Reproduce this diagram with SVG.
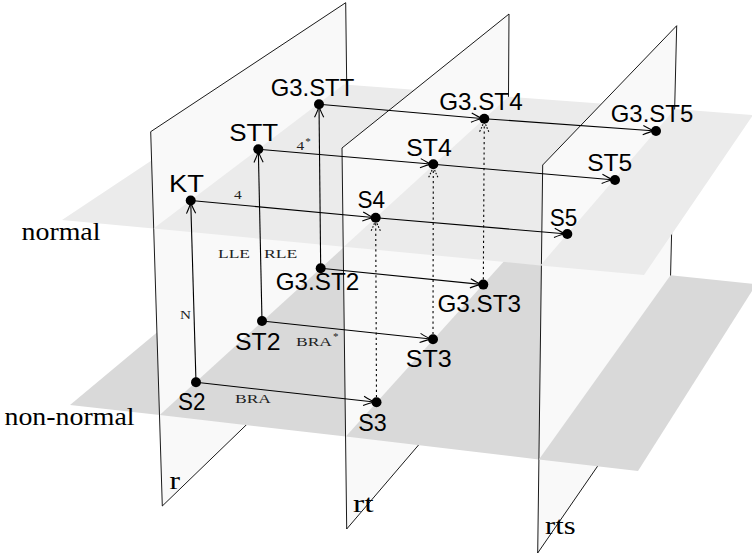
<svg xmlns="http://www.w3.org/2000/svg" width="752" height="558" viewBox="0 0 752 558">
<style>
.vp{fill:#f9f9f9;stroke:#000;stroke-width:0.9;stroke-linejoin:miter}
.hn{fill:#ebebeb;stroke:none}
.hnn{fill:#d9d9d9;stroke:none}
.e{fill:none;stroke:#000;stroke-width:1.1}
.d{fill:none;stroke:#000;stroke-width:1.1;stroke-dasharray:2.2 3}
.dot{fill:#000}
.nl{font-family:"Liberation Sans",Arial,sans-serif;font-size:24px;fill:#000;text-anchor:middle}
.sl{font-family:"Liberation Serif","Times New Roman",serif;font-size:12.5px;fill:#222}
.pl{font-family:"Liberation Serif","Times New Roman",serif;font-size:26px;fill:#000}
</style>
<defs>
<marker id="arr" markerUnits="userSpaceOnUse" markerWidth="16" markerHeight="12" refX="2" refY="0" orient="auto" overflow="visible">
<path d="M-11,-4.6 Q-4,-1.2 0,0 Q-4,1.2 -11,4.6" fill="none" stroke="#000" stroke-width="1.1"/>
</marker>
<marker id="arrd" markerUnits="userSpaceOnUse" markerWidth="16" markerHeight="12" refX="2" refY="0" orient="auto" overflow="visible">
<path d="M-11,-4.6 Q-4,-1.2 0,0 Q-4,1.2 -11,4.6" fill="none" stroke="#000" stroke-width="1.1" stroke-dasharray="1.6 1.6"/>
</marker>
</defs>

<g id="planes">
<polygon id="nn0" class="hnn" points="70,405 159.7,415.1 349,242.5 273.9,234.9"/>
<polygon id="n0" class="hn" points="62,220 153.5,228.6 343.7,84.5 275,78.5"/>
<polygon id="plane-r" class="vp" points="150.7,131.7 345.7,2.7 349.7,325 162.3,506"/>
<polygon id="nn1" class="hnn" points="159.7,415.1 345.8,436.5 507.4,257.6 349,242.5"/>
<polygon id="n1" class="hn" points="153.5,228.6 343.8,246.7 508.4,96.7 343.7,84.5"/>
<polygon id="plane-rt" class="vp" points="342,148 509,14 506.9,341.8 346.7,529"/>
<polygon id="nn2" class="hnn" points="345.8,436.5 538.9,459.5 670.5,275.3 507.4,257.6"/>
<polygon id="n2" class="hn" points="343.8,246.7 540.3,265.4 674.9,109 508.4,96.7"/>
<polygon id="plane-rts" class="vp" points="542.7,165 676.7,25.7 668.4,363.5 537.7,553"/>
<polygon id="nn3" class="hnn" points="538.9,459.5 638,471 756.4,284.1 670.5,275.3"/>
<polygon id="n3" class="hn" points="540.3,265.4 644,275 753,115 674.9,109"/>
</g>

<g id="plane-labels">
<text class="pl" x="21.5" y="240" textLength="79" lengthAdjust="spacingAndGlyphs">normal</text>
<text class="pl" x="4.5" y="425" textLength="130" lengthAdjust="spacingAndGlyphs">non-normal</text>
<text class="pl" x="169.5" y="489" textLength="10.5" lengthAdjust="spacingAndGlyphs">r</text>
<text class="pl" x="353" y="511.7" textLength="20.5" lengthAdjust="spacingAndGlyphs">rt</text>
<text class="pl" x="545" y="534.3" textLength="30.5" lengthAdjust="spacingAndGlyphs">rts</text>
</g>

<g id="connectors">
<path class="e" marker-end="url(#arr)" d="M190.7,200.5 L375.7,217.7"/>
<path class="e" marker-end="url(#arr)" d="M375.7,217.7 L567.3,234"/>
<path class="e" marker-end="url(#arr)" d="M258.3,149.3 L433.3,164.3"/>
<path class="e" marker-end="url(#arr)" d="M433.3,164.3 L615,180"/>
<path class="e" marker-end="url(#arr)" d="M319,104.3 L484.3,118.7"/>
<path class="e" marker-end="url(#arr)" d="M484.3,118.7 L656,131"/>
<path class="e" marker-end="url(#arr)" d="M196,382.3 L376.5,402.3"/>
<path class="e" marker-end="url(#arr)" d="M262,321 L433,339.3"/>
<path class="e" marker-end="url(#arr)" d="M320.7,268.3 L483.3,284.6"/>
<path class="e" marker-end="url(#arr)" d="M196,382.3 L190.7,200.5"/>
<path class="e" marker-end="url(#arr)" d="M262,321 L258.3,149.3"/>
<path class="e" marker-end="url(#arr)" d="M320.7,268.3 L319,104.3"/>
<path class="d" marker-end="url(#arrd)" d="M376.5,402.3 L375.7,217.7"/>
<path class="d" marker-end="url(#arrd)" d="M433,339.3 L433.3,164.3"/>
<path class="d" marker-end="url(#arrd)" d="M483.3,284.6 L484.3,118.7"/>
<text class="sl" x="234" y="199" font-size="13.5" textLength="7.7" lengthAdjust="spacingAndGlyphs">4</text>
<text class="sl" x="296.5" y="150"><tspan font-size="13.5" textLength="7.7" lengthAdjust="spacingAndGlyphs">4</tspan><tspan dx="1" dy="-5.5" font-size="11">*</tspan></text>
<text class="sl" x="218" y="257.7" textLength="32" lengthAdjust="spacingAndGlyphs">LLE</text>
<text class="sl" x="264" y="257.7" textLength="33.3" lengthAdjust="spacingAndGlyphs">RLE</text>
<text class="sl" x="180" y="319" textLength="11" lengthAdjust="spacingAndGlyphs">N</text>
<text class="sl" x="235" y="402.7" textLength="36" lengthAdjust="spacingAndGlyphs">BRA</text>
<text class="sl" x="296" y="345.7"><tspan textLength="36" lengthAdjust="spacingAndGlyphs">BRA</tspan><tspan dx="1" dy="-5.5" font-size="11">*</tspan></text>
</g>

<g id="node-KT"><circle class="dot" cx="190.7" cy="200.5" r="5"/><text class="nl" x="186.5" y="192" textLength="35" lengthAdjust="spacingAndGlyphs">KT</text></g>
<g id="node-STT"><circle class="dot" cx="258.3" cy="149.3" r="5"/><text class="nl" x="253.7" y="140.7" textLength="49" lengthAdjust="spacingAndGlyphs">STT</text></g>
<g id="node-G3STT"><circle class="dot" cx="319" cy="104.3" r="5"/><text class="nl" x="312.5" y="96" textLength="83.5" lengthAdjust="spacingAndGlyphs">G3.STT</text></g>
<g id="node-S4"><circle class="dot" cx="375.7" cy="217.7" r="5"/><text class="nl" x="371.2" y="208.3" textLength="27.5" lengthAdjust="spacingAndGlyphs">S4</text></g>
<g id="node-ST4"><circle class="dot" cx="433.3" cy="164.3" r="5"/><text class="nl" x="429" y="155.7" textLength="45.5" lengthAdjust="spacingAndGlyphs">ST4</text></g>
<g id="node-G3ST4"><circle class="dot" cx="484.3" cy="118.7" r="5"/><text class="nl" x="480.9" y="110" textLength="83.5" lengthAdjust="spacingAndGlyphs">G3.ST4</text></g>
<g id="node-S5"><circle class="dot" cx="567.3" cy="234" r="5"/><text class="nl" x="563.4" y="225.7" textLength="27.5" lengthAdjust="spacingAndGlyphs">S5</text></g>
<g id="node-ST5"><circle class="dot" cx="615" cy="180" r="5"/><text class="nl" x="609.7" y="171" textLength="45" lengthAdjust="spacingAndGlyphs">ST5</text></g>
<g id="node-G3ST5"><circle class="dot" cx="656" cy="131" r="5"/><text class="nl" x="652" y="122.3" textLength="82.5" lengthAdjust="spacingAndGlyphs">G3.ST5</text></g>
<g id="node-S2"><circle class="dot" cx="196" cy="382.3" r="5"/><text class="nl" x="191.7" y="410" textLength="27.5" lengthAdjust="spacingAndGlyphs">S2</text></g>
<g id="node-ST2"><circle class="dot" cx="262" cy="321" r="5"/><text class="nl" x="257.7" y="350" textLength="45.5" lengthAdjust="spacingAndGlyphs">ST2</text></g>
<g id="node-G3ST2"><circle class="dot" cx="320.7" cy="268.3" r="5"/><text class="nl" x="317.5" y="290" textLength="83.5" lengthAdjust="spacingAndGlyphs">G3.ST2</text></g>
<g id="node-S3"><circle class="dot" cx="376.5" cy="402.3" r="5"/><text class="nl" x="372.4" y="430.7" textLength="28.5" lengthAdjust="spacingAndGlyphs">S3</text></g>
<g id="node-ST3"><circle class="dot" cx="433" cy="339.3" r="5"/><text class="nl" x="428.7" y="366.7" textLength="46" lengthAdjust="spacingAndGlyphs">ST3</text></g>
<g id="node-G3ST3"><circle class="dot" cx="483.3" cy="284.6" r="5"/><text class="nl" x="479.2" y="311.7" textLength="83.5" lengthAdjust="spacingAndGlyphs">G3.ST3</text></g>
</svg>
